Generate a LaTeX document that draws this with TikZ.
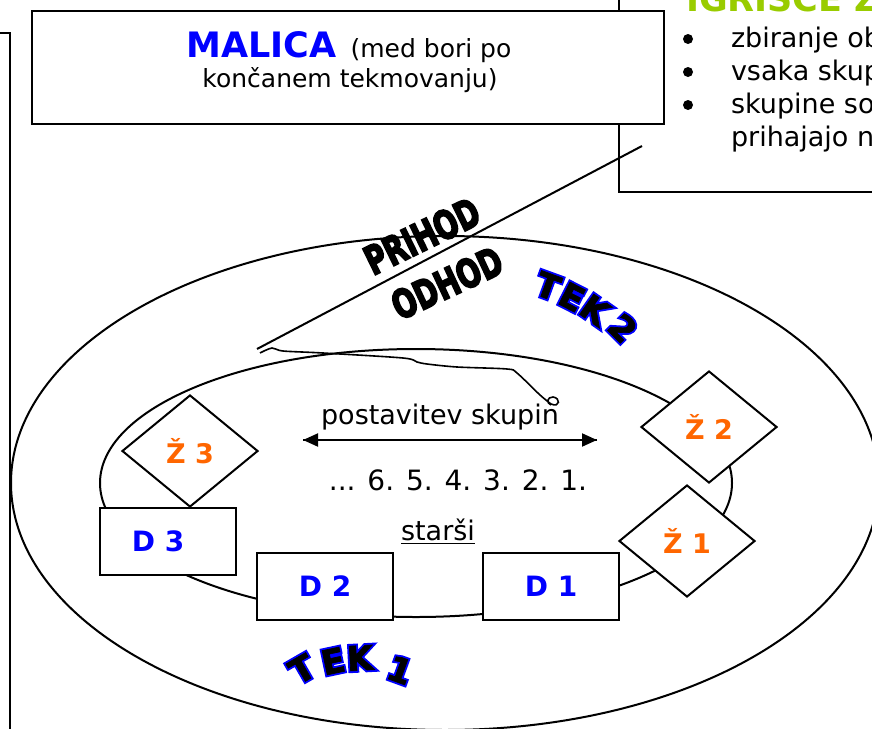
\documentclass[tikz,border=0pt]{standalone}
\usepackage{fontspec}
\setmainfont{DejaVu Sans}
\newfontfamily\heavyfont[FakeBold=5]{DejaVu Sans Bold}
\newfontfamily\artfont[FakeBold=2]{DejaVu Sans Bold}
\newfontfamily\rimfont[FakeBold=13]{DejaVu Sans Bold}
\usepackage{graphicx}
\usetikzlibrary{shapes.geometric}
\usetikzlibrary{arrows.meta}
\definecolor{zorange}{HTML}{FF6600}
\definecolor{titlegreen}{HTML}{99CC00}
\newcommand{\tekchar}[1]{\rlap{\color{blue}\rimfont #1}{\artfont #1}}

\begin{document}
\begin{tikzpicture}[x=0.5pt,y=-0.5pt,line width=1pt,
  dbox/.style={draw, fill=white, minimum width=68pt, minimum height=33.5pt, inner sep=0pt,
    text=blue, font=\fontsize{14}{16}\selectfont\bfseries},
  zbox/.style={diamond, draw, fill=white, minimum width=68pt, minimum height=56pt, inner sep=0pt,
    text=zorange, font=\fontsize{13.5}{16}\selectfont\bfseries},
  bodytext/.style={font=\fontsize{13.5}{16}\selectfont, inner sep=0pt, anchor=base},
  boxtext/.style={font=\fontsize{12.5}{15}\selectfont, inner sep=0pt, anchor=base},
  wordart/.style={font=\fontsize{14}{16}\selectfont, inner sep=0pt},
  tekletter/.style={font=\fontsize{17}{20}\selectfont, inner sep=0pt},
  dot/.style={circle, fill, inner sep=0pt, minimum size=5pt},
  tip/.style={-{Triangle[length=7.5pt,width=6.5pt]}}]
\useasboundingbox (0,0) rectangle (872,728);
\clip (0,0) rectangle (872,728);

% okvirja na robu
\draw (-20,33) rectangle (10,760);
\draw (619,-20) rectangle (900,192);
\node[anchor=base west, inner sep=0pt, text=titlegreen,
  font=\fontsize{17.5}{20}\selectfont\bfseries] (naslov) at (685,11) {IGRIŠČE Z};
\node[dot] (dot1) at (688,39) {};
\node[dot] (dot2) at (688,72) {};
\node[dot] (dot3) at (688,105) {};
\node[bodytext, anchor=base west] (alinea1) at (730,47) {zbiranje ob};
\node[bodytext, anchor=base west] (alinea2) at (730,80) {vsaka skup};
\node[bodytext, anchor=base west] (alinea3) at (730,113) {skupine so};
\node[bodytext, anchor=base west] (alinea4) at (730,146) {prihajajo n};

% malica
\node[draw, fill=white, minimum width=316pt, minimum height=56.5pt] (malica) at (348,67.5) {};
\node[boxtext] (malica1) at (349,57)
  {{\fontsize{17.5}{20}\selectfont\bfseries\textcolor{blue}{MALICA}}\hspace{7pt}(med bori po};
\node[boxtext] (malica2) at (350,87) {končanem tekmovanju)};

% tekaski krog
\draw (445,483) ellipse [x radius=434, y radius=247];
\draw (416,483) ellipse [x radius=316, y radius=134];

% prihod / odhod
\coordinate (pot1) at (257,349);
\coordinate (pot2) at (642,146);
\draw (pot1) -- (pot2);
\draw[line width=0.8pt] plot[smooth, tension=0.5] coordinates {(260,353) (272,348) (283,351)
  (323,353) (403,358) (417,362) (427,364) (457,367) (507,369) (517,373) (540,395) (551,404)}
  .. controls (560,408) and (561,398) .. (553,397) .. controls (547,397) and (546,403) .. (551,405);
\node[wordart, rotate=26] (prihod) at (422,236) {\scalebox{1}[1.4]{\heavyfont PRIHOD}};
\node[wordart, rotate=25] (odhod) at (447,283) {\scalebox{1}[1.4]{\heavyfont ODHOD}};

% skupine
\node[zbox] (z3) at (190,451) {Ž 3};
\node[zbox] (z2) at (709,427) {Ž 2};
\node[zbox] (z1) at (687,541) {Ž 1};
\node[dbox] (d3) at (168,541) {D 3\hspace*{10pt}};
\node[dbox] (d2) at (325,586.5) {D 2};
\node[dbox] (d1) at (551,586.5) {D 1};

\coordinate (levo) at (303,440);
\coordinate (desno) at (597,440);
\draw[tip] (levo) -- (desno);
\draw[tip] (desno) -- (levo);
\node[bodytext] (postavitev) at (440,424) {postavitev skupin};
\node[bodytext, font=\fontsize{14}{16}\selectfont] (vrsta) at (458,490) {... 6. 5. 4. 3. 2. 1.};
\node[bodytext] (starsi) at (438,540) {\underline{starši}};

% napisa tek
\node[tekletter, rotate=30] (tek1T) at (302,669) {\tekchar{T}};
\node[tekletter, rotate=12] (tek1E) at (333,661) {\tekchar{E}};
\node[tekletter, rotate=3] (tek1K) at (360,658) {\tekchar{K}};
\node[tekletter, rotate=-20] (tek1N) at (400,670) {\tekchar{1}};
\node[tekletter, rotate=-20] (tek2T) at (548,286) {\tekchar{T}};
\node[tekletter, rotate=-27] (tek2E) at (572,297) {\tekchar{E}};
\node[tekletter, rotate=-35] (tek2K) at (595,310) {\tekchar{K}};
\node[tekletter, rotate=-45] (tek2N) at (623,328) {\tekchar{2}};
\end{tikzpicture}
\end{document}
